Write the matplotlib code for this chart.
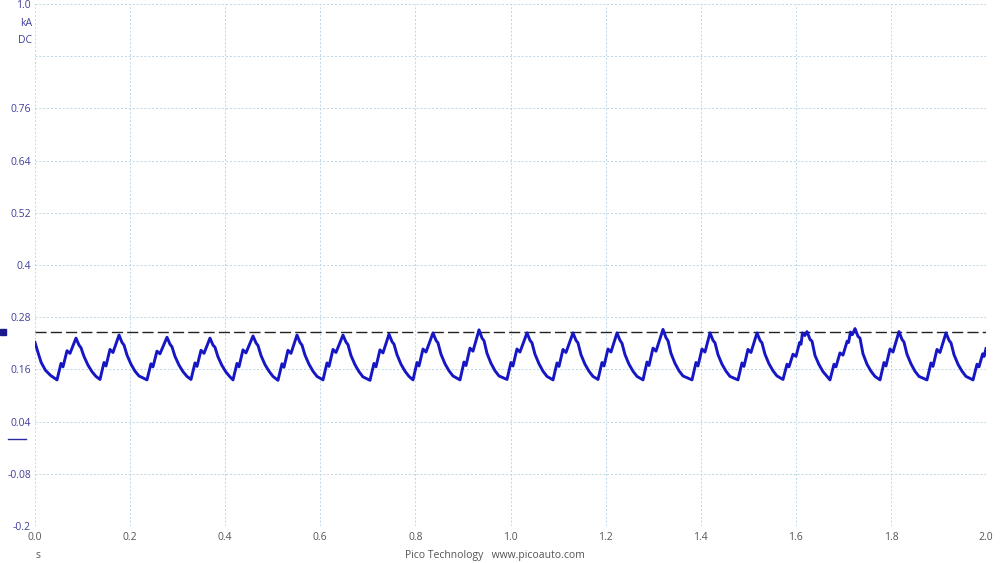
"""PicoScope style capture: current trace with a reference level."""

import matplotlib

matplotlib.use("Agg")
import matplotlib.pyplot as plt
from matplotlib.transforms import blended_transform_factory

TRACE = "#1616c4"
LABEL = "#3f3f9c"
MUTED = "#555555"
GRID = "#bcd6e4"

# current trace (time in s, current in kA)
time_s = [
    0.0000, 0.0060, 0.0130, 0.0220, 0.0330,
    0.0463, 0.0547, 0.0589, 0.0673, 0.0736, 0.0862, 0.0925, 0.0967, 0.1030, 0.1114, 0.1198, 0.1282,
    0.1367, 0.1451, 0.1493, 0.1577, 0.1640, 0.1767, 0.1830, 0.1872, 0.1935, 0.2019, 0.2103, 0.2187,
    0.2355, 0.2439, 0.2481, 0.2565, 0.2628, 0.2776, 0.2839, 0.2881, 0.2944, 0.3028, 0.3112, 0.3196,
    0.3281, 0.3365, 0.3407, 0.3491, 0.3554, 0.3680, 0.3743, 0.3785, 0.3848, 0.3932, 0.4016, 0.4100,
    0.4164, 0.4248, 0.4290, 0.4374, 0.4437, 0.4585, 0.4648, 0.4690, 0.4753, 0.4837, 0.4921, 0.5005,
    0.5110, 0.5194, 0.5236, 0.5320, 0.5383, 0.5510, 0.5573, 0.5615, 0.5678, 0.5762, 0.5846, 0.5930,
    0.6057, 0.6141, 0.6183, 0.6267, 0.6330, 0.6477, 0.6540, 0.6582, 0.6645, 0.6729, 0.6813, 0.6897,
    0.7045, 0.7129, 0.7171, 0.7255, 0.7318, 0.7445, 0.7508, 0.7550, 0.7613, 0.7697, 0.7781, 0.7865,
    0.7950, 0.8034, 0.8076, 0.8160, 0.8223, 0.8370, 0.8433, 0.8475, 0.8538, 0.8622, 0.8706, 0.8790,
    0.8938, 0.9022, 0.9064, 0.9148, 0.9211, 0.9338, 0.9401, 0.9443, 0.9506, 0.9590, 0.9674, 0.9758,
    0.9926, 1.0010, 1.0052, 1.0136, 1.0199, 1.0347, 1.0410, 1.0452, 1.0515, 1.0599, 1.0683, 1.0767,
    1.0894, 1.0978, 1.1020, 1.1104, 1.1167, 1.1314, 1.1377, 1.1419, 1.1482, 1.1566, 1.1650, 1.1734,
    1.1840, 1.1924, 1.1966, 1.2050, 1.2113, 1.2240, 1.2303, 1.2345, 1.2408, 1.2492, 1.2576, 1.2660,
    1.2787, 1.2871, 1.2913, 1.2997, 1.3060, 1.3207, 1.3270, 1.3312, 1.3375, 1.3459, 1.3543, 1.3627,
    1.3817, 1.3901, 1.3943, 1.4027, 1.4090, 1.4196, 1.4259, 1.4301, 1.4364, 1.4448, 1.4532, 1.4616,
    1.4784, 1.4868, 1.4910, 1.4994, 1.5057, 1.5184, 1.5247, 1.5289, 1.5352, 1.5436, 1.5520, 1.5604,
    1.5731, 1.5815, 1.5857, 1.5941, 1.6004, 1.6080, 1.6110, 1.6140, 1.6190, 1.6236, 1.6299, 1.6341,
    1.6404, 1.6488, 1.6572, 1.6656,
    1.6719, 1.6803, 1.6845, 1.6929, 1.6992, 1.7080, 1.7110, 1.7150, 1.7190, 1.7245, 1.7308, 1.7350,
    1.7413, 1.7497, 1.7581, 1.7665,
    1.7771, 1.7855, 1.7897, 1.7981, 1.8044, 1.8170, 1.8233, 1.8275, 1.8338, 1.8422, 1.8506, 1.8590,
    1.8759, 1.8843, 1.8885, 1.8969, 1.9032, 1.9159, 1.9222, 1.9264, 1.9327, 1.9411, 1.9495, 1.9579,
    1.9727, 1.9811, 1.9853, 1.9930, 1.9960, 2.0000,
]
current_ka = [
    0.222, 0.200, 0.176, 0.158, 0.146,
    0.136, 0.174, 0.166, 0.203, 0.197, 0.232, 0.216, 0.210, 0.190, 0.170, 0.155, 0.144,
    0.137, 0.176, 0.168, 0.206, 0.199, 0.239, 0.222, 0.216, 0.193, 0.172, 0.156, 0.145,
    0.136, 0.173, 0.166, 0.202, 0.196, 0.234, 0.218, 0.212, 0.190, 0.170, 0.155, 0.144,
    0.137, 0.175, 0.167, 0.204, 0.197, 0.232, 0.216, 0.211, 0.189, 0.169, 0.154, 0.143,
    0.136, 0.174, 0.166, 0.205, 0.198, 0.237, 0.221, 0.215, 0.192, 0.171, 0.156, 0.144,
    0.135, 0.173, 0.165, 0.204, 0.197, 0.239, 0.222, 0.216, 0.193, 0.172, 0.156, 0.144,
    0.136, 0.175, 0.167, 0.206, 0.199, 0.239, 0.223, 0.217, 0.192, 0.171, 0.155, 0.143,
    0.135, 0.174, 0.166, 0.205, 0.198, 0.241, 0.224, 0.218, 0.194, 0.172, 0.156, 0.144,
    0.136, 0.176, 0.168, 0.207, 0.200, 0.244, 0.227, 0.221, 0.195, 0.173, 0.157, 0.145,
    0.136, 0.177, 0.169, 0.209, 0.202, 0.251, 0.232, 0.226, 0.197, 0.174, 0.157, 0.145,
    0.137, 0.176, 0.168, 0.207, 0.200, 0.244, 0.227, 0.221, 0.195, 0.173, 0.156, 0.144,
    0.136, 0.175, 0.167, 0.206, 0.199, 0.244, 0.227, 0.221, 0.194, 0.172, 0.156, 0.144,
    0.137, 0.176, 0.168, 0.207, 0.200, 0.244, 0.227, 0.220, 0.194, 0.172, 0.156, 0.144,
    0.136, 0.177, 0.169, 0.209, 0.202, 0.252, 0.233, 0.226, 0.197, 0.174, 0.157, 0.145,
    0.136, 0.176, 0.168, 0.207, 0.200, 0.244, 0.227, 0.221, 0.194, 0.172, 0.156, 0.144,
    0.136, 0.175, 0.167, 0.206, 0.199, 0.244, 0.227, 0.221, 0.195, 0.173, 0.157, 0.145,
    0.137, 0.172, 0.166, 0.195, 0.190, 0.222, 0.218, 0.244, 0.238, 0.247, 0.229, 0.225,
    0.192, 0.171, 0.155, 0.144,
    0.136, 0.172, 0.166, 0.198, 0.193, 0.225, 0.222, 0.246, 0.240, 0.254, 0.236, 0.232,
    0.196, 0.172, 0.156, 0.144,
    0.136, 0.176, 0.168, 0.207, 0.200, 0.247, 0.229, 0.223, 0.195, 0.173, 0.156, 0.144,
    0.136, 0.175, 0.167, 0.206, 0.199, 0.244, 0.227, 0.221, 0.194, 0.172, 0.156, 0.144,
    0.136, 0.172, 0.166, 0.196, 0.190, 0.208,
]

reference_level = 0.245
x_ticks = [0.0, 0.2, 0.4, 0.6, 0.8, 1.0, 1.2, 1.4, 1.6, 1.8, 2.0]
y_ticks = [-0.2, -0.08, 0.04, 0.16, 0.28, 0.4, 0.52, 0.64, 0.76, 0.88, 1.0]
y_tick_labels = ["-0.2", "-0.08", "0.04", "0.16", "0.28", "0.4", "0.52", "0.64", "0.76", "", "1.0"]

plt.rcParams.update({"font.family": ["Open Sans", "DejaVu Sans"]})

fig = plt.figure(figsize=(10, 5.63), dpi=100, facecolor="white")
ax = fig.add_axes([0.035, 0.0657, 0.951, 0.927])
ax.set_xlim(0, 2)
ax.set_ylim(-0.2, 1.0)

ax.plot(time_s, current_ka, color=TRACE, linewidth=2.1, solid_joinstyle="round", zorder=3)
ax.axhline(reference_level, color="#222222", linewidth=1.0, dashes=(8, 3), zorder=2)

ax.set_xticks(x_ticks)
ax.set_xticklabels([f"{v:.1f}" for v in x_ticks])
ax.set_yticks(y_ticks)
ax.set_yticklabels(y_tick_labels)
ax.tick_params(axis="both", length=0, labelsize=7.5)
ax.tick_params(axis="y", colors=LABEL, pad=3)
ax.tick_params(axis="x", colors=MUTED, pad=4)
ax.grid(color=GRID, linewidth=0.7, dashes=(2, 2))
ax.set_axisbelow(True)
for spine in ax.spines.values():
    spine.set_visible(False)

# channel markers in the left margin
margin = blended_transform_factory(ax.transAxes, ax.transData)
ax.plot([-0.0336], [reference_level], marker="s", markersize=4, color="#1a1a8c",
        transform=margin, clip_on=False)
ax.plot([-0.0285, -0.0095], [0.0, 0.0], color="#2a2aa0", linewidth=1.0,
        transform=margin, clip_on=False)

ax.text(-0.0035, 0.962, "kA", transform=ax.transAxes, ha="right", va="center",
        fontsize=7.5, color=LABEL)
ax.text(-0.0035, 0.931, "DC", transform=ax.transAxes, ha="right", va="center",
        fontsize=7.5, color=LABEL)

fig.text(0.038, 0.014, "s", fontsize=7.5, color=MUTED, ha="center", va="center")
fig.text(0.495, 0.014, "Pico Technology   www.picoauto.com", fontsize=7.5,
         color=MUTED, ha="center", va="center")

fig.savefig("out.png", dpi=100, facecolor="white")
